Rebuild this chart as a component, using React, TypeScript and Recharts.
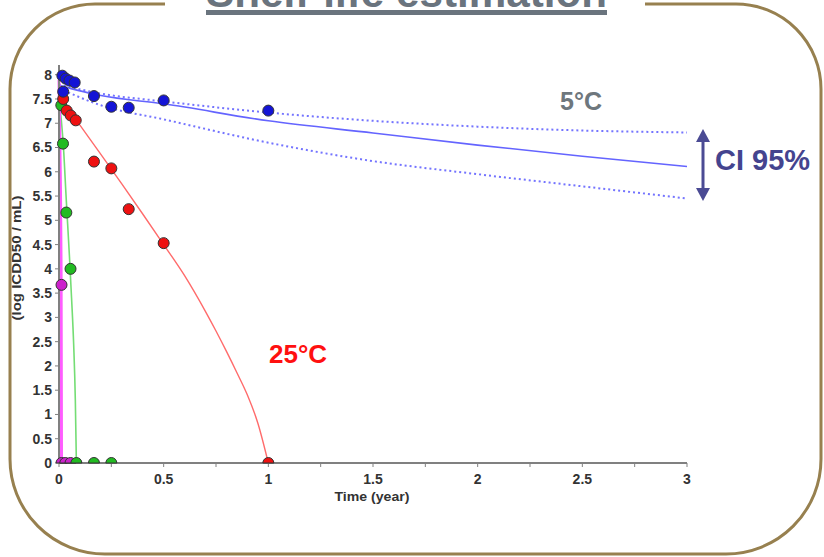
import { ComposedChart, Line, Scatter, XAxis, YAxis } from 'recharts';

const xTicks = [0, 0.25, 0.5, 0.75, 1, 1.25, 1.5, 1.75, 2, 2.25, 2.5, 2.75, 3];
const yTicks = [0, 0.5, 1, 1.5, 2, 2.5, 3, 3.5, 4, 4.5, 5, 5.5, 6, 6.5, 7, 7.5, 8];

// measured titers (log CCID50/mL) per storage temperature
const points5C = [
  { x: 0.016, y: 7.98 }, { x: 0.032, y: 7.92 }, { x: 0.05, y: 7.88 }, { x: 0.075, y: 7.84 },
  { x: 0.02, y: 7.65 }, { x: 0.167, y: 7.56 }, { x: 0.25, y: 7.34 }, { x: 0.333, y: 7.32 },
  { x: 0.5, y: 7.47 }, { x: 1.0, y: 7.26 },
];
const points25C = [
  { x: 0.02, y: 7.5 }, { x: 0.037, y: 7.26 }, { x: 0.056, y: 7.16 }, { x: 0.08, y: 7.06 },
  { x: 0.167, y: 6.21 }, { x: 0.25, y: 6.07 }, { x: 0.333, y: 5.23 }, { x: 0.5, y: 4.53 },
  { x: 1.0, y: 0 },
];
const pointsGreen = [
  { x: 0.011, y: 7.37 }, { x: 0.019, y: 6.58 }, { x: 0.035, y: 5.16 }, { x: 0.055, y: 4.0 },
  { x: 0.083, y: 0 }, { x: 0.167, y: 0 }, { x: 0.25, y: 0 },
];
const pointsMagenta = [
  { x: 0.012, y: 3.67 }, { x: 0.012, y: 0 }, { x: 0.03, y: 0 }, { x: 0.055, y: 0 },
];

// fitted curves
const fit5C = [
  { x: 0, y: 7.78 }, { x: 0.2, y: 7.57 }, { x: 0.5, y: 7.4 }, { x: 1, y: 7.05 },
  { x: 1.5, y: 6.8 }, { x: 2, y: 6.55 }, { x: 2.5, y: 6.32 }, { x: 3, y: 6.11 },
];
const upper5C = [
  { x: 0, y: 7.8 }, { x: 0.2, y: 7.61 }, { x: 0.5, y: 7.45 }, { x: 1, y: 7.22 },
  { x: 1.5, y: 7.05 }, { x: 2, y: 6.93 }, { x: 2.5, y: 6.85 }, { x: 3, y: 6.81 },
];
const lower5C = [
  { x: 0, y: 7.72 }, { x: 0.2, y: 7.37 }, { x: 0.5, y: 7.08 }, { x: 1, y: 6.6 },
  { x: 1.5, y: 6.22 }, { x: 2, y: 5.95 }, { x: 2.5, y: 5.7 }, { x: 3, y: 5.45 },
];
const fit25C = [
  { x: 0, y: 7.55 }, { x: 0.1, y: 6.96 }, { x: 0.2, y: 6.36 }, { x: 0.3, y: 5.75 },
  { x: 0.4, y: 5.13 }, { x: 0.5, y: 4.5 }, { x: 0.6, y: 3.86 }, { x: 0.7, y: 3.12 },
  { x: 0.75, y: 2.72 }, { x: 0.8, y: 2.3 }, { x: 0.85, y: 1.86 }, { x: 0.9, y: 1.4 },
  { x: 0.95, y: 0.82 }, { x: 1.0, y: 0 },
];
const fitGreen = [
  { x: 0, y: 7.5 }, { x: 0.02, y: 6.6 }, { x: 0.035, y: 5.4 }, { x: 0.05, y: 4.25 },
  { x: 0.06, y: 3.4 }, { x: 0.07, y: 2.45 }, { x: 0.078, y: 1.3 }, { x: 0.083, y: 0 },
];
const fitMagenta = [
  { x: 0, y: 7.9 }, { x: 0.006, y: 6 }, { x: 0.01, y: 4 }, { x: 0.012, y: 0 },
];

const tickFont = { fontFamily: 'Arial, "Liberation Sans", sans-serif', fontWeight: 700, fontSize: 14, fill: '#333' };

const dot = (fill: string) => (p: any) => {
  const { cx, cy, payload } = p;
  if (payload && payload.y === 0) {
    // points on the x axis are cut in half by the plot border
    return <path d={`M${cx - 5.5},${cy} A5.5,5.5 0 0 1 ${cx + 5.5},${cy} Z`} fill={fill} stroke="#333" strokeWidth={1} />;
  }
  return <circle cx={cx} cy={cy} r={5.5} fill={fill} stroke="#333" strokeWidth={1} />;
};

export default function App() {
  return (
    <div style={{ position: 'absolute', left: 0, top: 0, width: 824, height: 557, background: '#fff' }}>
      <ComposedChart width={824} height={557} margin={{ top: 65, right: 137, bottom: 64, left: 0 }}>
        <XAxis
          type="number"
          dataKey="x"
          domain={[0, 3]}
          ticks={xTicks}
          interval={0}
          tickFormatter={(v: number) => (Math.abs(v * 2 - Math.round(v * 2)) < 1e-6 ? String(v) : '')}
          tickSize={4}
          tickMargin={7}
          height={30}
          axisLine={{ stroke: '#808080', strokeWidth: 2 }}
          tickLine={{ stroke: '#808080' }}
          tick={tickFont}
        />
        <YAxis
          type="number"
          dataKey="y"
          domain={[0, 8.2]}
          ticks={yTicks}
          interval={0}
          width={59}
          tickSize={4}
          tickMargin={3}
          axisLine={{ stroke: '#808080', strokeWidth: 2 }}
          tickLine={{ stroke: '#808080' }}
          tick={tickFont}
        />
        <Line data={upper5C} dataKey="y" type="monotone" stroke="#7474ff" strokeWidth={2} strokeDasharray="2 3" dot={false} isAnimationActive={false} />
        <Line data={lower5C} dataKey="y" type="monotone" stroke="#7474ff" strokeWidth={2} strokeDasharray="2 3" dot={false} isAnimationActive={false} />
        <Line data={fit5C} dataKey="y" type="monotone" stroke="#6464ff" strokeWidth={1.6} dot={false} isAnimationActive={false} />
        <Line data={fit25C} dataKey="y" type="monotone" stroke="#ff6b6b" strokeWidth={1.4} dot={false} isAnimationActive={false} />
        <Line data={fitGreen} dataKey="y" type="monotone" stroke="#74dd74" strokeWidth={1.6} dot={false} isAnimationActive={false} />
        <Line data={fitMagenta} dataKey="y" type="monotone" stroke="#ff5cff" strokeWidth={3} dot={false} isAnimationActive={false} />
        <Scatter data={pointsMagenta} dataKey="y" shape={dot('#cc22cc')} isAnimationActive={false} />
        <Scatter data={pointsGreen} dataKey="y" shape={dot('#22bb22')} isAnimationActive={false} />
        <Scatter data={points25C} dataKey="y" shape={dot('#ee1111')} isAnimationActive={false} />
        <Scatter data={points5C} dataKey="y" shape={dot('#1414d6')} isAnimationActive={false} />
      </ComposedChart>

      <svg width={824} height={557} style={{ position: 'absolute', left: 0, top: 0, pointerEvents: 'none' }}>
        <path
          d="M165 4 L95 4 A85 85 0 0 0 10 89 L10 459 A95 95 0 0 0 105 554 L726 554 A95 95 0 0 0 821 459 L821 89 A85 85 0 0 0 736 4 L645 4"
          fill="none"
          stroke="#97804f"
          strokeWidth={3}
        />
        <g fontFamily='Arial, "Liberation Sans", sans-serif' fontWeight={700}>
          <text x={406.5} y={7} fontSize={42} fill="#6a747e" textAnchor="middle" textLength={401} lengthAdjust="spacingAndGlyphs">
            Shelf-life estimation
          </text>
          <rect x={206} y={10} width={401} height={5} fill="#6a747e" />
          <text x={21} y={258} fontSize={12} fill="#333" textAnchor="middle" transform="rotate(-90 21 258)" textLength={125} lengthAdjust="spacingAndGlyphs">
            (log ICDD50 / mL)
          </text>
          <text x={372} y={501} fontSize={12} fill="#333" textAnchor="middle" textLength={75} lengthAdjust="spacingAndGlyphs">
            Time (year)
          </text>
          <text x={560} y={110} fontSize={25} fill="#6e777d">5°C</text>
          <text x={269} y={363} fontSize={26} fill="#ff1010">25°C</text>
          <text x={715} y={170} fontSize={29} fill="#44448f">CI 95%</text>
        </g>
        <line x1={703} y1={140} x2={703} y2={190} stroke="#4b4b94" strokeWidth={3} />
        <polygon points="703,129 696,142 710,142" fill="#4b4b94" />
        <polygon points="703,201 696,188 710,188" fill="#4b4b94" />
      </svg>
    </div>
  );
}
